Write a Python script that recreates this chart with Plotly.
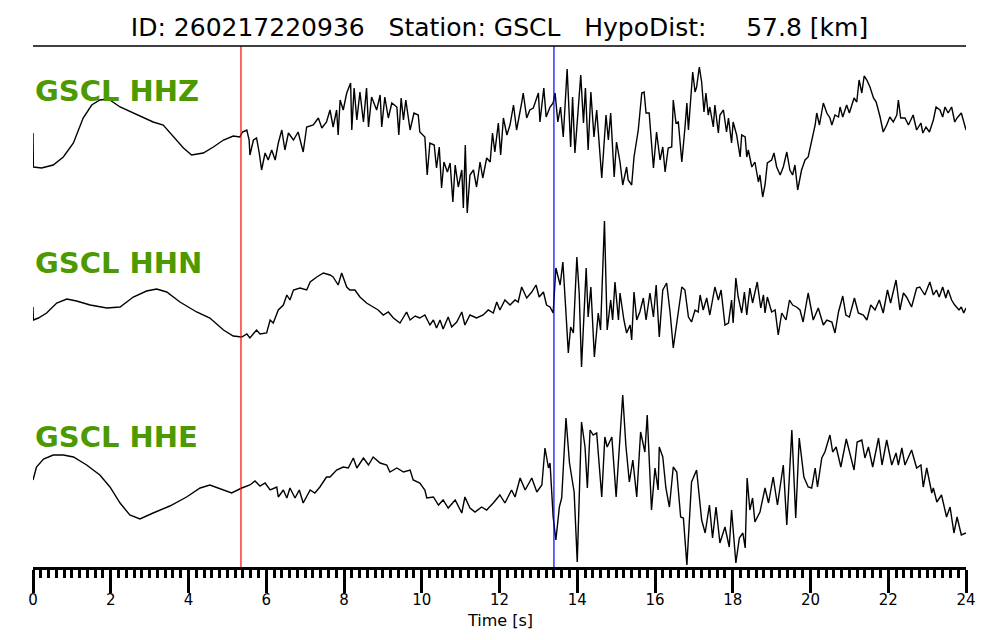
import plotly.graph_objects as go

# ---------------- data ----------------
title_text = "ID: 260217220936   Station: GSCL   HypoDist:     57.8 [km]"
channels = ["GSCL HHZ", "GSCL HHN", "GSCL HHE"]
p_pick = 5.35
s_pick = 13.40
tick_values = list(range(0, 25, 2))

time_hhz = [0.00,0.01,0.22,0.52,0.78,1.04,1.29,1.51,1.72,1.94,2.24,2.67,3.09,3.35,3.61,3.87,4.08,4.38,4.64,4.90,5.15,5.32,5.39,5.50,5.56,5.58,5.67,5.75,5.82,5.88,5.97,6.05,6.14,6.23,6.31,6.40,6.48,6.57,6.70,6.82,6.95,7.04,7.21,7.34,7.43,7.55,
            7.64,7.72,7.81,7.85,7.90,7.98,8.07,8.17,8.20,8.26,8.33,8.41,8.50,8.58,8.63,8.71,8.84,8.93,8.97,9.05,9.14,9.23,9.36,9.41,9.47,9.53,9.59,9.70,9.80,9.91,9.95,10.08,10.14,10.21,10.32,10.38,10.45,10.51,10.57,10.66,10.73,10.80,10.86,10.94,11.03,11.07,11.12,11.17,11.24,11.33,11.41,11.50,11.57,11.67,11.76,11.82,11.88,11.97,12.03,12.10,12.19,12.27,12.36,12.44,12.57,12.61,12.70,12.78,12.87,13.00,13.04,13.14,13.20,13.30,13.38,13.43,13.50,13.57,13.64,13.74,13.83,13.88,13.94,14.03,14.09,14.16,14.21,14.28,14.35,14.43,14.50,14.63,14.74,14.80,14.86,14.95,15.01,15.10,15.17,15.27,15.31,15.40,15.46,15.57,15.66,15.72,15.77,15.85,
            15.96,16.04,16.13,16.20,16.26,16.34,16.43,16.47,16.54,16.60,16.69,16.77,16.82,16.86,16.90,16.97,17.03,17.07,17.14,17.20,17.26,17.31,17.37,17.41,17.50,17.54,17.63,17.67,17.76,17.84,17.89,17.97,18.01,18.10,18.19,18.23,18.32,18.36,18.40,18.49,18.57,18.66,18.70,18.77,18.83,18.89,19.00,19.06,19.13,19.22,19.30,19.39,19.47,19.54,19.60,19.67,19.77,19.86,19.94,20.03,20.12,20.16,20.23,20.33,20.42,20.50,20.55,20.63,20.72,20.76,20.83,20.93,21.00,21.12,21.19,21.25,21.32,21.38,21.45,21.53,21.62,21.69,21.79,21.87,21.96,22.04,22.13,22.22,22.26,22.32,22.43,22.52,22.64,22.73,22.84,22.89,22.97,23.06,23.16,23.23,23.33,23.40,23.46,23.54,23.63,23.71,23.77,23.88,24.00]
amp_hhz = [7,-27,-28,-25,-17,-3,22,35,40,41,33,25,18,15,3,-8,-15,-13,-7,0,4,3,8,10,0,-15,0,2,-13,-30,-13,-20,-10,-20,-3,10,-10,7,0,8,-12,13,15,22,12,18,
           30,13,30,5,40,30,47,57,10,52,20,48,18,52,13,43,30,45,13,43,22,37,33,5,42,20,40,10,27,25,8,3,-35,-3,-5,-28,-7,-48,-22,-32,-23,-62,-25,-47,-30,-68,-5,-73,-35,-30,-47,-22,-38,-18,-22,7,-12,17,-15,22,5,15,35,10,37,47,22,30,32,47,18,52,23,33,37,47,18,33,3,71,-7,43,-13,30,65,17,52,-10,48,3,30,-38,25,0,27,-37,-2,-22,-45,-27,-40,-45,-17,10,47,48,27,27,
           -28,8,-20,-7,-32,-8,-7,40,17,18,-22,12,37,10,30,68,48,53,73,58,28,47,25,33,13,35,7,25,30,8,22,-3,18,5,-17,5,3,-17,-10,-27,-22,-42,-35,-57,-45,-23,-20,-13,-27,-35,-27,-12,-30,-35,-25,-50,-30,-20,-17,-2,15,27,15,37,27,22,15,25,23,33,23,35,27,42,38,60,47,64,60,53,42,38,23,8,15,23,18,25,40,22,22,15,25,10,17,7,13,8,20,33,30,23,33,27,33,18,22,27,10]

time_hhn = [0.00,0.01,0.14,0.35,0.61,0.87,1.12,1.47,1.90,2.24,2.58,2.92,3.18,3.44,3.78,4.21,4.55,4.90,5.15,5.37,5.50,5.58,5.75,5.84,6.01,6.10,6.18,6.31,6.44,6.53,6.61,6.70,6.87,7.04,7.13,7.30,7.47,7.64,
            7.72,7.85,7.94,8.07,8.15,8.28,8.41,8.58,8.75,8.88,9.01,9.14,9.27,9.44,9.61,9.70,9.83,9.95,10.08,10.21,10.30,10.38,10.47,10.55,10.68,10.77,10.90,11.03,11.11,11.24,11.41,11.58,11.71,11.84,11.93,12.01,12.14,12.27,12.40,12.48,12.57,12.70,12.83,12.94,13.02,13.13,13.21,13.30,13.38,13.45,13.56,13.63,13.71,13.77,13.83,13.90,13.99,14.05,14.11,14.23,14.28,14.35,14.44,14.54,14.60,14.70,14.77,14.86,14.91,14.97,15.06,15.10,15.20,15.27,15.36,15.40,15.46,15.53,15.61,15.70,15.77,15.87,
            15.96,16.03,16.11,16.20,16.30,16.39,16.47,16.54,16.69,16.77,16.86,16.94,17.03,17.11,17.16,17.24,17.33,17.41,17.54,17.63,17.70,17.80,17.89,17.97,18.01,18.08,18.14,18.23,18.30,18.36,18.44,18.51,18.63,18.72,18.79,18.83,18.89,19.00,19.09,19.17,19.26,19.37,19.46,19.54,19.64,19.73,19.81,19.94,20.07,20.20,20.33,20.42,20.55,20.63,20.72,20.83,20.91,21.00,21.13,21.23,21.36,21.45,21.55,21.66,21.77,21.87,21.98,22.06,22.20,22.30,22.39,22.47,22.60,22.73,22.81,22.94,23.07,23.16,23.24,23.31,23.40,23.48,23.54,23.63,23.71,23.82,23.88,23.94,24.00]
amp_hhn = [-7,-20,-18,-13,-3,1,-1,-5,-8,-7,3,9,11,8,-2,-12,-18,-30,-36,-37,-34,-38,-30,-34,-33,-20,-23,-10,-5,5,0,10,12,10,18,23,27,25,
           23,15,27,13,10,10,3,-3,-7,-10,-15,-12,-18,-23,-12,-20,-16,-18,-15,-25,-20,-28,-20,-29,-17,-27,-22,-12,-25,-15,-18,-15,-10,-13,-2,-10,0,-5,0,-2,13,2,8,15,3,8,-5,-7,-13,32,15,38,-13,-53,-27,-33,43,7,-67,32,-17,13,-57,-13,-30,79,-30,0,-20,18,-20,7,-20,-33,-25,-40,8,-20,-12,2,-20,7,
           -17,15,-37,10,17,-13,-48,-27,13,10,-17,-22,-10,-12,5,-10,2,-15,13,0,10,-25,-23,0,-23,22,3,-13,8,-15,12,-3,18,-8,5,-13,3,-12,-10,-35,-13,-20,0,-5,-7,-10,-22,7,-20,-8,-25,-20,-22,-33,-12,4,-15,-17,2,-13,-15,-20,-5,-10,0,-13,10,-3,20,-10,7,3,-7,12,13,5,18,5,10,3,13,2,10,0,-5,-10,-7,-13,-8]

time_hhe = [0.00,0.09,0.27,0.52,0.78,1.04,1.38,1.72,1.98,2.24,2.49,2.75,3.09,3.52,3.95,4.30,4.55,4.81,5.11,5.37,5.58,5.71,5.84,5.97,6.10,6.27,6.31,6.44,6.53,6.61,6.74,6.85,6.95,7.13,7.25,7.38,7.55,
            7.64,7.81,7.98,8.11,8.24,8.33,8.50,8.63,8.75,8.93,9.10,9.18,9.36,9.53,9.70,9.78,9.95,10.08,10.13,10.30,10.43,10.55,10.68,10.86,11.03,11.11,11.24,11.37,11.54,11.67,11.84,12.01,12.14,12.31,12.40,12.53,12.66,12.83,12.96,13.09,13.17,13.26,13.30,13.38,13.45,13.54,13.60,13.71,13.80,13.92,14.00,14.11,14.20,14.26,14.33,14.41,14.50,14.63,14.71,14.77,14.89,15.00,15.17,15.25,15.34,15.43,15.53,15.63,15.74,15.80,15.91,16.00,16.08,
            16.11,16.20,16.28,16.37,16.47,16.56,16.66,16.73,16.82,16.94,17.07,17.20,17.29,17.40,17.48,17.57,17.67,17.80,17.91,17.97,18.08,18.17,18.26,18.32,18.37,18.44,18.51,18.57,18.70,18.83,18.92,19.04,19.15,19.30,19.39,19.52,19.62,19.71,19.83,19.94,20.03,20.12,20.18,20.29,20.37,20.50,20.57,20.66,20.78,20.92,21.00,21.12,21.20,21.32,21.40,21.49,21.60,21.75,21.84,21.96,22.09,22.20,22.26,22.35,22.43,22.60,22.73,22.84,22.90,22.99,23.12,23.16,23.25,23.37,23.50,23.59,23.69,23.77,23.88,24.00]
amp_hhe = [0,13,21,25,25,23,15,5,-7,-23,-35,-39,-33,-26,-17,-8,-5,-9,-13,-8,-5,-1,-6,-3,-10,-7,-17,-10,-18,-8,-18,-10,-23,-10,-13,-7,3,
           3,10,13,12,22,12,22,15,23,17,15,8,12,8,10,0,-3,-10,-18,-17,-25,-20,-28,-20,-33,-17,-28,-32,-27,-30,-23,-15,-23,-10,-17,2,-10,2,-12,-5,32,12,17,-37,-60,-27,-18,62,17,-12,-82,58,33,-8,50,45,47,-17,43,33,43,-17,85,35,-2,20,-17,48,28,65,-30,12,-10,
           33,23,-8,-27,13,8,-37,-38,-85,-2,10,-40,-53,-25,-58,-27,-63,-47,-67,-30,-83,-58,-53,-68,2,-30,-18,-42,-32,-8,-23,3,-25,15,-45,50,-38,42,3,-7,-8,12,-7,22,28,45,28,33,13,41,28,10,38,40,22,33,13,42,15,40,15,27,15,32,15,30,12,15,-7,12,-13,-8,-22,-15,-37,-27,-53,-37,-55,-53]

# ---------------- layout helpers ----------------
offsets = [427, 267, 87]        # vertical position of each trace baseline
label_y = [476, 304, 130]       # vertical position of each channel label
times = [time_hhz, time_hhn, time_hhe]
amps = [amp_hhz, amp_hhn, amp_hhe]
for t, a in zip(times, amps):
    assert len(t) == len(a), (len(t), len(a))

FONT = "DejaVu Sans"
fig = go.Figure()
for t, a, off in zip(times, amps, offsets):
    fig.add_trace(go.Scatter(x=t, y=[off + v for v in a], mode="lines",
                             line=dict(color="black", width=1.4),
                             showlegend=False, hoverinfo="skip"))

for xpick, col in [(p_pick, "red"), (s_pick, "blue")]:
    fig.add_shape(type="line", xref="x", yref="paper", x0=xpick, x1=xpick, y0=0, y1=1,
                  line=dict(color=col, width=1.2))
fig.add_shape(type="line", xref="paper", yref="paper", x0=0, x1=1, y0=1, y1=1,
              line=dict(color="black", width=1.5))

for name, ly in zip(channels, label_y):
    fig.add_annotation(x=0, xref="paper", xanchor="left", y=ly, yref="y", yanchor="middle",
                       text="<b>%s</b>" % name, showarrow=False,
                       font=dict(family=FONT, size=29, color="#4c9a00"))

fig.add_annotation(x=0.5, xref="paper", xanchor="center", y=-0.102, yref="paper", yanchor="middle",
                   text="Time [s]", showarrow=False, font=dict(family=FONT, size=16, color="black"))

fig.update_layout(
    width=1000, height=640,
    margin=dict(l=33, r=34, t=46, b=73),
    paper_bgcolor="white", plot_bgcolor="white",
    title=dict(text=title_text.replace(" ", "\u00a0"), x=0.5, xanchor="center", xref="paper",
               y=1 - 27 / 640, yref="container", yanchor="middle",
               font=dict(family=FONT, size=25, color="black")),
    xaxis=dict(range=[0, 24], showgrid=False, zeroline=False, showline=True,
               linecolor="black", linewidth=3, ticks="outside", ticklen=23, tickwidth=3,
               tickcolor="black", tickvals=tick_values, ticklabelstandoff=-6,
               tickfont=dict(family=FONT, size=15, color="black"),
               minor=dict(dtick=0.2, ticks="outside", ticklen=8, tickwidth=3, tickcolor="black", showgrid=False)),
    yaxis=dict(range=[0, 521], visible=False, showgrid=False, zeroline=False),
)

fig.write_html("out.html", config={"displayModeBar": False},
               post_script="document.body.style.margin='0px';")
